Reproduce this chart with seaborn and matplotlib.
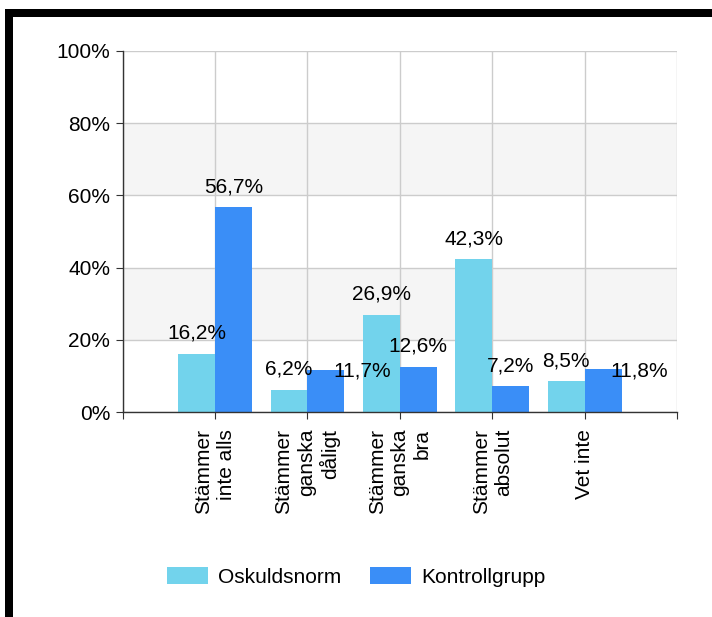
import matplotlib
matplotlib.use("Agg")
import matplotlib.pyplot as plt
from matplotlib.patches import Rectangle
import seaborn as sns
import pandas as pd

# ---- data ----
categories = ["Stämmer\ninte alls", "Stämmer\nganska\ndåligt", "Stämmer\nganska\nbra",
              "Stämmer\nabsolut", "Vet inte"]
series_names = ["Oskuldsnorm", "Kontrollgrupp"]
oskuldsnorm = [16.2, 6.2, 26.9, 42.3, 8.5]
kontrollgrupp = [56.7, 11.7, 12.6, 7.2, 11.8]
y_ticks = [0, 20, 40, 60, 80, 100]
y_tick_labels = ["0%", "20%", "40%", "60%", "80%", "100%"]

colors = ["#72D3EC", "#3A8EF7"]
# labels drawn beside the bar instead of above it (series index, category index)
side_labels = {(1, 1), (1, 4)}

df = pd.DataFrame({
    "cat": categories * 2,
    "value": oskuldsnorm + kontrollgrupp,
    "group": [series_names[0]] * len(categories) + [series_names[1]] * len(categories),
})

sns.set_style("white")
plt.rcParams["font.family"] = ["Liberation Sans", "DejaVu Sans"]
plt.rcParams["text.color"] = "black"
plt.rcParams["xtick.color"] = "black"
plt.rcParams["ytick.color"] = "black"
plt.rcParams["axes.labelcolor"] = "black"
FS = 15

W, H = 712, 617
fig = plt.figure(figsize=(W / 100, H / 100), dpi=100)
ax = fig.add_axes([122.7 / W, 1 - 412 / H, (677 - 122.7) / W, (412 - 51) / H])

# alternating bands
for lo, hi in [(20, 40), (60, 80)]:
    ax.axhspan(lo, hi, color="#f5f5f5", zorder=0, lw=0)

sns.barplot(data=df, x="cat", y="value", hue="group", hue_order=series_names,
            palette=colors, saturation=1, linewidth=0, ax=ax, zorder=3,
            errorbar=None)

handles, labels = ax.get_legend_handles_labels()
if ax.get_legend() is not None:
    ax.get_legend().remove()

ax.set_xlim(-1, len(categories))
ax.set_ylim(0, 100)
ax.set_yticks(y_ticks)
ax.set_yticklabels(y_tick_labels, fontsize=FS, color="black")
xt = list(range(-1, len(categories) + 1))
ax.set_xticks(xt)
ax.set_xticklabels([""] + categories + [""], fontsize=FS, rotation=90, color="black",
                   ha="center", va="top", multialignment="right", linespacing=1.22)
ax.set_xlabel("")
ax.set_ylabel("")

ax.grid(True, color="#cccccc", lw=1, zorder=1)
ax.set_axisbelow(True)
for s in ["top", "right"]:
    ax.spines[s].set_visible(False)
for s in ["left", "bottom"]:
    ax.spines[s].set_color("#333333")
    ax.spines[s].set_linewidth(1)
    ax.spines[s].set_zorder(5)
ax.tick_params(axis="y", length=5, width=0.8, color="#333333", pad=4, left=True)
ax.tick_params(axis="x", length=5, width=0.8, color="#333333", pad=7, bottom=True)

# value labels
for si, cont in enumerate(ax.containers):
    for ci, bar in enumerate(cont):
        v = bar.get_height()
        xc = bar.get_x() + bar.get_width() / 2
        txt = f"{v:.1f}".replace(".", ",") + "%"
        if (si, ci) in side_labels:
            ax.annotate(txt, (xc, v), xytext=(36, -7), textcoords="offset pixels",
                        ha="center", va="baseline", fontsize=FS, zorder=6, color="black")
        else:
            ax.annotate(txt, (xc, v), xytext=(0, 15), textcoords="offset pixels",
                        ha="center", va="baseline", fontsize=FS, zorder=6, color="black")

leg = fig.legend(handles, labels, loc="center", bbox_to_anchor=(356 / W, 1 - 577 / H),
                 ncol=2, frameon=False, fontsize=FS, handlelength=2.0, handleheight=0.82,
                 handletextpad=0.48, columnspacing=1.35)
for t in leg.get_texts():
    t.set_color("black")

# black frame lines (top and left)
fig.add_artist(Rectangle((5 / W, 0), 8 / W, (H - 9) / H, transform=fig.transFigure,
                         color="black", lw=0))
fig.add_artist(Rectangle((5 / W, 1 - 17 / H), (W - 5) / W, 8 / H, transform=fig.transFigure,
                         color="black", lw=0))

fig.savefig("out.png", dpi=100, facecolor="white")
